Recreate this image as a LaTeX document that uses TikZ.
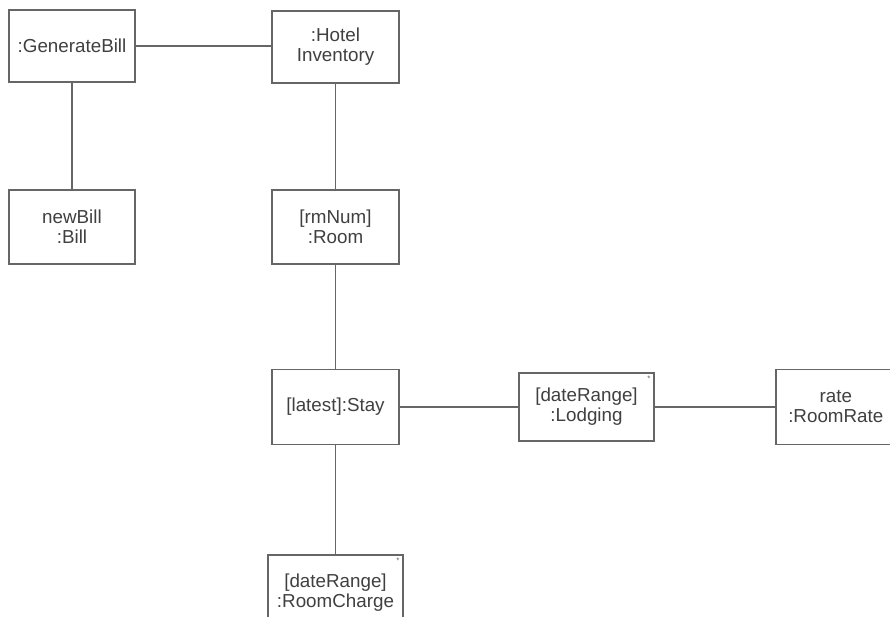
\documentclass[tikz,border=0pt]{standalone}
\usepackage{fontspec}
\setmainfont{Liberation Sans}
\begin{document}
\begin{tikzpicture}[x=1pt,y=-1pt,
  obj/.style={draw=black!60, line width=1.6pt, fill=white, inner sep=0pt, align=center,
    font=\fontsize{18.8}{20}\selectfont, text=black!75},
  link/.style={draw=black!60, line width=1.8pt},
  star/.style={font=\fontsize{8}{8}\selectfont, text=black!60, inner sep=0pt}]
\useasboundingbox (0,0) rectangle (890,617);
\clip (0,0) rectangle (890,617);
\node[obj, minimum width=126pt, minimum height=72pt] (gen) at (72,46) {:GenerateBill};
\node[obj, minimum width=127pt, minimum height=72pt] (hotel) at (335.5,47) {:Hotel\\Inventory};
\node[obj, minimum width=126pt, minimum height=74pt] (bill) at (72,227) {newBill\\:Bill};
\node[obj, minimum width=127pt, minimum height=74pt] (room) at (335.5,227) {[rmNum]\\:Room};
\node[obj, minimum width=127pt, minimum height=75pt] (stay) at (335.5,407) {[latest]:Stay};
\node[obj, minimum width=135pt, minimum height=68pt] (lodg) at (586.5,407) {[dateRange]\\:Lodging};
\node[obj, minimum width=120pt, minimum height=75pt, anchor=west, text width=116pt] (rate) at (775,407) {rate\\:RoomRate};
\node[obj, minimum width=135pt, minimum height=76pt, anchor=north, text width=130pt] (charge) at (335.5,554) {[dateRange]\\:RoomCharge};
\node[star, anchor=north east] (s1) at ([xshift=-4pt,yshift=-4pt]lodg.north east) {*};
\node[star, anchor=north east] (s2) at ([xshift=-4pt,yshift=-4pt]charge.north east) {*};
\draw[link] (gen.east) -- (gen.east -| hotel.west);
\draw[link] (gen) -- (bill);
\draw[link] (hotel) -- (room);
\draw[link] (room) -- (stay);
\draw[link] (stay) -- (lodg);
\draw[link] (lodg) -- (rate);
\draw[link] (stay) -- (charge);
\end{tikzpicture}
\end{document}
